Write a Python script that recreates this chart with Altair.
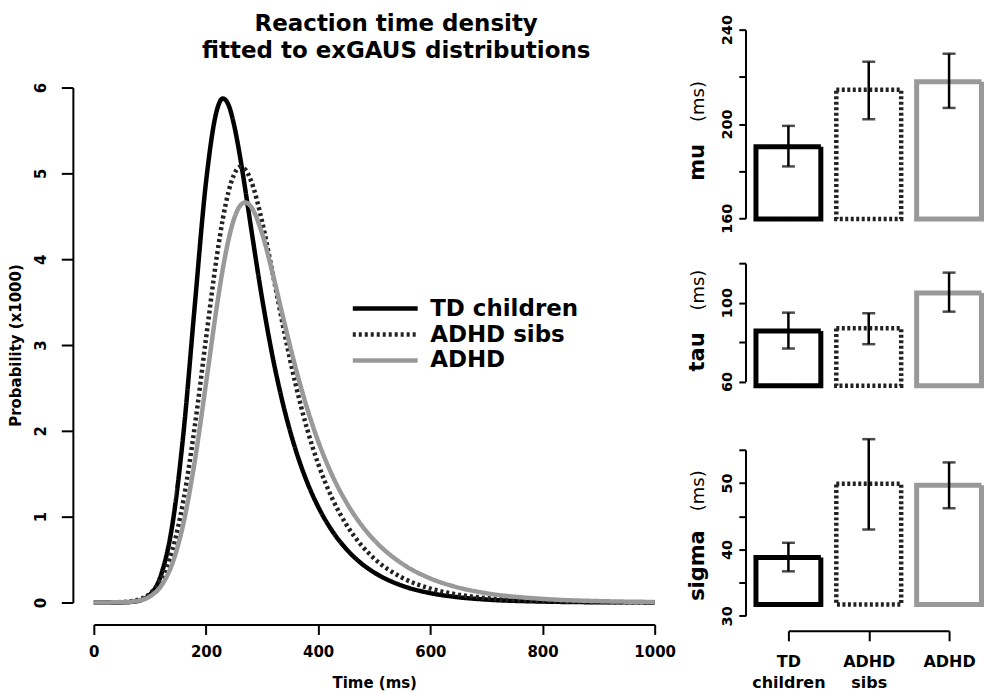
import altair as alt
import pandas as pd

FONT = "DejaVu Sans"

groups = ["TD children", "ADHD sibs", "ADHD"]
title_lines = ["Reaction time density", "fitted to exGAUS distributions"]

# --- density curves (probability x1000) ---
time_ms = [0, 50, 75, 100, 120, 140, 160, 180, 200, 220, 230, 240, 250, 260, 270,
           280, 300, 320, 340, 360, 380, 400, 425, 450, 475, 500, 550, 600, 650,
           700, 800, 900, 1000]
td_density = [0.0, 0.001, 0.013, 0.091, 0.324, 0.904, 1.984, 3.461, 4.896, 5.750,
              5.873, 5.799, 5.566, 5.222, 4.814, 4.381, 3.543, 2.823, 2.241, 1.776,
              1.407, 1.115, 0.834, 0.624, 0.466, 0.349, 0.195, 0.109, 0.061, 0.034,
              0.011, 0.003, 0.001]
sibs_density = [0.0, 0.005, 0.025, 0.103, 0.269, 0.610, 1.199, 2.052, 3.074, 4.063,
                4.470, 4.782, 4.985, 5.073, 5.045, 4.919, 4.439, 3.798, 3.136, 2.536,
                2.029, 1.616, 1.213, 0.910, 0.683, 0.512, 0.288, 0.162, 0.091, 0.051,
                0.016, 0.005, 0.002]
adhd_density = [0.0, 0.003, 0.016, 0.070, 0.193, 0.454, 0.928, 1.646, 2.551, 3.479,
                3.887, 4.222, 4.469, 4.615, 4.661, 4.615, 4.299, 3.803, 3.253, 2.730,
                2.269, 1.879, 1.482, 1.169, 0.921, 0.726, 0.451, 0.280, 0.174, 0.108,
                0.042, 0.016, 0.006]

# --- exGAUS parameters (ms): mean and error-bar ends ---
mu_mean = [190.3, 214.5, 217.9]
mu_low = [182.0, 202.0, 206.8]
mu_high = [199.2, 226.4, 229.8]
tau_mean = [85.6, 87.0, 104.9]
tau_low = [76.7, 78.9, 95.4]
tau_high = [94.9, 94.6, 115.2]
sigma_mean = [38.8, 49.9, 49.65]
sigma_low = [36.7, 43.0, 46.2]
sigma_high = [41.0, 56.6, 53.1]
bar_base = {"mu": 159.7, "tau": 57.8, "sigma": 31.7}

time_ticks = [0, 200, 400, 600, 800, 1000]
prob_ticks = [0, 1, 2, 3, 4, 5, 6]
mu_ticks = [160, 180, 200, 220, 240]
tau_ticks = [60, 80, 100, 120]
sigma_ticks = [30, 35, 40, 45, 50, 55]

line_colors = ["#000000", "#222222", "#999999"]
line_dashes = [[1, 0], [3, 3], [1, 0]]
bar_widths = [5, 4.5, 5]
bar_dashes = [[1, 0], [3, 2.5], [1, 0]]

# ---------------- left panel ----------------
curve_df = pd.DataFrame({
    "time": time_ms * 3,
    "density": td_density + sibs_density + adhd_density,
    "group": [g for g in groups for _ in time_ms],
})

legend = alt.Legend(
    title=None, orient="none", legendX=308, legendY=268,
    symbolType="M-12,0H1", symbolSize=100, symbolStrokeWidth=4.5,
    labelFont=FONT, labelFontSize=23, labelFontWeight="bold", labelColor="black",
    labelOffset=6, rowPadding=2, padding=0,
)

left = alt.Chart(curve_df).mark_line(strokeWidth=4.5, interpolate="monotone").encode(
    x=alt.X("time:Q", scale=alt.Scale(domain=[0, 1000], nice=False),
            axis=alt.Axis(values=time_ticks, title="Time (ms)", offset=22, tickSize=10,
                          labelPadding=10, titlePadding=16, labelFontSize=15,
                          titleFontSize=15, labelFlush=False, format="d")),
    y=alt.Y("density:Q", scale=alt.Scale(domain=[0, 6], nice=False),
            axis=alt.Axis(values=prob_ticks, title="Probability (x1000)", offset=21,
                          tickSize=11.6, labelAngle=270, labelAlign="center",
                          labelBaseline="bottom", labelPadding=12.7, titlePadding=10,
                          labelFontSize=15, titleFontSize=15, labelFlush=False)),
    color=alt.Color("group:N", scale=alt.Scale(domain=groups, range=line_colors),
                    legend=legend),
    strokeDash=alt.StrokeDash("group:N", scale=alt.Scale(domain=groups, range=line_dashes),
                              legend=legend),
).properties(width=562, height=516)

# two-line heading placed in its own strip above the density plot
title_df = pd.DataFrame({"line": title_lines, "row": [0, 1]})
heading = alt.Chart(title_df).mark_text(
    font=FONT, fontSize=23, fontWeight="bold", color="black",
    align="center", baseline="middle", dy=-6
).encode(
    text="line:N",
    y=alt.Y("row:O", axis=None, scale=alt.Scale(type="point", padding=0)),
    x=alt.value(303),
).properties(width=562, height=27)


# ---------------- right panels ----------------
def bar_panel(name, means, lows, highs, base, domain, ticks, step, height,
              name_y, unit_y, show_x):
    df = pd.DataFrame({"group": groups, "value": means, "low": lows,
                       "high": highs, "base": [base] * 3})
    if show_x:
        xaxis = alt.Axis(title=None, offset=15, tickSize=10, labelPadding=13,
                         labelAngle=0, labelFontSize=16, labelLineHeight=21,
                         labelExpr="split(datum.label, ' ')")
    else:
        xaxis = None
    x = alt.X("group:N", sort=groups, scale=alt.Scale(type="point", padding=0),
              axis=xaxis)
    yscale = alt.Scale(domain=domain, nice=False, zero=False)
    yaxis = alt.Axis(values=ticks, title=None, offset=43, tickSize=6.7,
                     labelAngle=270, labelAlign="center", labelBaseline="bottom",
                     labelPadding=4.3, labelFontSize=14.5, labelFlush=False,
                     labelExpr=f"(datum.value - {domain[0]}) % {step} == 0 ? datum.label : ''")
    layers = []
    for g, c, w, d in zip(groups, line_colors, bar_widths, bar_dashes):
        layers.append(
            alt.Chart(df).transform_filter(alt.datum.group == g)
            .mark_bar(size=65, fill="white", stroke=c, strokeWidth=w, strokeDash=d)
            .encode(x=x, y=alt.Y("value:Q", scale=yscale, axis=yaxis), y2="base:Q")
        )
    err = alt.Chart(df).mark_rule(color="black", strokeWidth=2.5).encode(
        x=x, y=alt.Y("low:Q", scale=yscale, axis=yaxis), y2="high:Q")
    cap_lo = alt.Chart(df).mark_tick(color="black", thickness=2.5, size=13).encode(
        x=x, y=alt.Y("low:Q", scale=yscale, axis=yaxis))
    cap_hi = alt.Chart(df).mark_tick(color="black", thickness=2.5, size=13).encode(
        x=x, y=alt.Y("high:Q", scale=yscale, axis=yaxis))
    lab = pd.DataFrame({"t": [name]})
    name_txt = alt.Chart(lab).mark_text(
        angle=270, align="center", baseline="alphabetic", font=FONT, fontSize=21,
        fontWeight="bold", color="black"
    ).encode(text="t:N", x=alt.value(-85), y=alt.value(name_y))
    unit_txt = alt.Chart(pd.DataFrame({"t": ["(ms)"]})).mark_text(
        angle=270, align="center", baseline="alphabetic", font=FONT, fontSize=18,
        fontWeight="normal", color="black"
    ).encode(text="t:N", x=alt.value(-85), y=alt.value(unit_y))
    return alt.layer(*layers, err, cap_lo, cap_hi, name_txt, unit_txt).properties(
        width=161, height=height)


mu_panel = bar_panel("mu", mu_mean, mu_low, mu_high, bar_base["mu"], [160, 240],
                     mu_ticks, 40, 189, 133, 72, False)
tau_panel = bar_panel("tau", tau_mean, tau_low, tau_high, bar_base["tau"], [60, 120],
                      tau_ticks, 40, 118.5, 89, 27, False)
sigma_panel = bar_panel("sigma", sigma_mean, sigma_low, sigma_high, bar_base["sigma"],
                        [30, 55], sigma_ticks, 10, 166.4, 116, 41, True)

upper = alt.vconcat(mu_panel, tau_panel, spacing=28).resolve_scale(
    x="independent", y="independent")
right = alt.vconcat(upper, sigma_panel, spacing=46).resolve_scale(
    x="independent", y="independent")
left_col = alt.vconcat(heading, left, spacing=19).resolve_scale(
    x="independent", y="independent")

chart = alt.hconcat(left_col, right, spacing=11).resolve_scale(
    x="independent", y="independent"
).properties(
    padding={"left": 0, "top": 4, "right": 0, "bottom": 0}
).configure_view(stroke=None).configure_axis(
    domainColor="black", tickColor="black", labelColor="black", titleColor="black",
    domainWidth=2, tickWidth=2, grid=False, labelFont=FONT, titleFont=FONT,
    labelFontWeight="bold", titleFontWeight="bold",
)

chart.save("out.html", embed_options={"renderer": "svg", "actions": False})
